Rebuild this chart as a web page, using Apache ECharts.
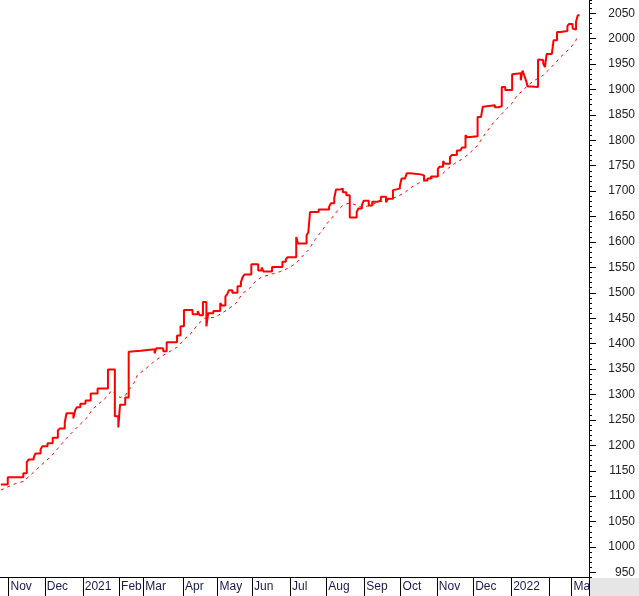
<!DOCTYPE html>
<html><head><meta charset="utf-8">
<script src="https://cdn.jsdelivr.net/npm/echarts@6/dist/echarts.min.js"></script>
<style>html,body{margin:0;padding:0;background:#fff}#c{width:639px;height:596px}</style>
</head><body><div id="c"></div>
<script>
// Months shown on the trading-day axis
const monthNames  = ['Oct','Nov','Dec','Jan','Feb','Mar','Apr','May','Jun','Jul','Aug','Sep','Oct','Nov','Dec','Jan','Feb','Mar'];
const monthYears  = [2020,2020,2020,2021,2021,2021,2021,2021,2021,2021,2021,2021,2021,2021,2021,2022,2022,2022];
const monthDays   = [5,21,22,21,14,23,20,20,22,21,22,21,21,21,22,22,13,10];
const monthLabels = ['','Nov','Dec','2021','Feb','Mar','Apr','May','Jun','Jul','Aug','Sep','Oct','Nov','Dec','2022','','Mar'];

// Price line: trading-day index where a new level starts, and that level
const closeIdx = [0,4,13,15,16,19,20,23,24,27,30,33,34,37,38,42,43,44,46,49,52,56,62,66,68,69,72,74,75,81,89,90,94,96,102,104,106,111,114,115,117,119,120,123,127,128,130,131,132,134,137,139,140,141,145,149,151,152,157,163,165,166,171,172,177,178,179,184,190,191,193,194,196,198,200,202,206,207,209,210,213,215,218,220,223,224,227,228,231,232,234,235,237,243,245,247,249,253,254,256,257,260,261,264,266,267,269,270,271,276,278,279,280,286,288,290,292,296,297,301,302,303,304,305,307,311,312,314,315,316,319,320,322,324,328,329,331,332,333,334,335];
const closeVal = [1123,1137,1145,1167,1172,1176,1184,1192,1198,1204,1215,1229,1233,1245,1263,1253,1269,1275,1282,1288,1302,1312,1349,1257,1235,1280,1294,1384,1386,1389,1381,1391,1385,1403,1416,1434,1466,1458,1464,1456,1482,1434,1460,1464,1480,1475,1493,1497,1505,1500,1513,1521,1531,1536,1556,1544,1550,1542,1551,1561,1566,1570,1610,1597,1613,1619,1659,1664,1669,1676,1686,1703,1705,1698,1692,1648,1659,1666,1672,1681,1672,1679,1682,1689,1678,1685,1702,1705,1710,1725,1728,1735,1733,1731,1721,1725,1729,1744,1748,1759,1754,1767,1771,1780,1777,1786,1810,1806,1808,1846,1849,1866,1869,1865,1867,1905,1899,1930,1932,1918,1937,1928,1918,1906,1905,1959,1958,1951,1944,1970,1971,1997,2013,2015,2025,2029,2020,2018,2033,2046,2046];

// Moving average (dashed)
const maIdx = [0,7,13,17,23,29,33,38,44,50,53,56,59,62,64,66,69,72,74,77,79,84,88,92,97,102,106,110,114,118,124,128,132,136,140,144,147,151,158,162,166,169,172,174,178,182,186,189,192,195,198,201,203,209,214,218,223,227,230,234,238,242,247,252,256,259,263,268,272,276,279,282,285,293,296,299,302,305,309,314,317,321,324,327,330,333,334];
const maVal = [1112,1123,1129,1141,1160,1178,1194,1214,1235,1255,1271,1280,1288,1298,1308,1302,1294,1298,1308,1322,1338,1351,1363,1373,1383,1393,1408,1420,1438,1450,1452,1460,1469,1479,1499,1509,1521,1531,1538,1542,1548,1554,1562,1570,1584,1605,1623,1637,1649,1662,1672,1676,1676,1668,1672,1678,1682,1686,1690,1698,1708,1716,1723,1727,1735,1745,1755,1765,1777,1790,1806,1820,1834,1863,1873,1889,1897,1908,1918,1928,1938,1952,1964,1973,1983,1997,2007];

const yMin = 941, yMax = 2076;

// build categories and month-start lookup
const categories = [];
const monthStart = {};
monthDays.forEach((n, m) => {
  monthStart[categories.length] = m;
  for (let d = 1; d <= n; d++) categories.push(monthNames[m] + ' ' + monthYears[m] + ' #' + d);
});
const isTick = (i) => monthStart[i] !== undefined && monthStart[i] > 0;

const chart = echarts.init(document.getElementById('c'), null, {renderer: 'canvas'});
chart.setOption({
  animation: false,
  backgroundColor: '#ffffff',
  grid: {left: 0, right: 50, top: 0, bottom: 19, containLabel: false, outerBoundsMode: 'none'},
  xAxis: {
    type: 'category',
    data: categories,
    boundaryGap: true,
    axisLine: {show: true, lineStyle: {color: '#000', width: 1}},
    axisTick: {show: true, interval: (i) => isTick(i), length: 19, lineStyle: {color: '#000', width: 1}},
    axisLabel: {
      show: true, interval: (i) => isTick(i), align: 'left', margin: 4,
      padding: [0, 0, 0, 1],
      fontFamily: 'Liberation Sans', fontSize: 12, color: '#1a1a4e',
      formatter: (v, i) => (monthStart[i] !== undefined ? monthLabels[monthStart[i]] : '')
    },
    splitLine: {show: false}
  },
  yAxis: [{
    type: 'value', position: 'right', min: yMin, max: yMax,
    minInterval: 50, maxInterval: 50, splitNumber: 22, scale: true,
    axisLine: {show: true, lineStyle: {color: '#000', width: 1}},
    axisTick: {show: true, length: 7, lineStyle: {color: '#000'}},
    axisLabel: {
      show: true, inside: false, margin: 46, align: 'right',
      showMinLabel: false, showMaxLabel: false,
      fontFamily: 'Liberation Sans', fontSize: 12, color: '#222',
      formatter: (v) => (Math.abs(v % 50) < 1e-6 ? String(v) : '')
    },
    splitLine: {show: false}
  }, {
    type: 'value', position: 'right', min: yMin, max: yMax,
    minInterval: 10, maxInterval: 10, splitNumber: 113, scale: true,
    axisLine: {show: false},
    axisTick: {show: true, length: 3, lineStyle: {color: '#000'}},
    axisLabel: {show: false},
    splitLine: {show: false}
  }],
  series: [{
    name: 'Close', type: 'line', step: 'end', yAxisIndex: 0,
    data: closeIdx.map((x, k) => [x, closeVal[k]]),
    showSymbol: false, symbol: 'none',
    lineStyle: {color: '#ff0000', width: 2},
    z: 3
  }, {
    name: 'MA', type: 'line', yAxisIndex: 0,
    data: maIdx.map((x, k) => [x, maVal[k]]),
    showSymbol: false, symbol: 'none',
    lineStyle: {color: '#ff0000', width: 1, type: [3, 4]},
    z: 2
  }],
  graphic: [{
    type: 'rect', z: 100, silent: true,
    shape: {x: 590, y: 578, width: 49, height: 18},
    style: {fill: '#e6e6e6'}
  }]
});
</script>
</body></html>
